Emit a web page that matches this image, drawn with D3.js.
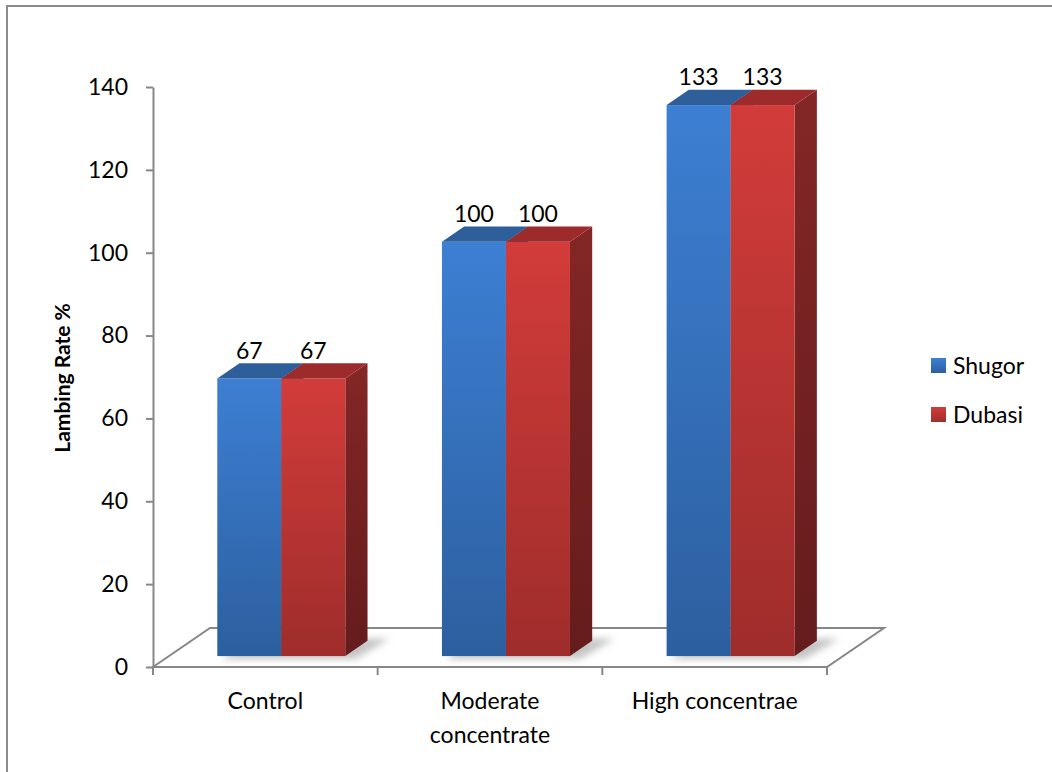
<!DOCTYPE html>
<html>
<head>
<meta charset="utf-8">
<script src="https://cdn.jsdelivr.net/npm/d3@7"></script>
<style>
  html, body { margin: 0; padding: 0; background: #fff; }
  svg { display: block; font-family: Lato, "Open Sans", sans-serif; }
</style>
</head>
<body>
<svg id="chart" width="1052" height="772"></svg>
<script>
// Lambing rate by feeding regime and breed
const categories = [["Control"], ["Moderate", "concentrate"], ["High concentrae"]];
const seriesNames = ["Shugor", "Dubasi"];
const shugor = [67, 100, 133];
const dubasi = [67, 100, 133];
const yTicks = [0, 20, 40, 60, 80, 100, 120, 140];

const seriesValues = [shugor, dubasi];
const catKeys = categories.map(c => c.join(" "));

const svg = d3.select("#chart");
const defs = svg.append("defs");

// chart frame
svg.append("rect")
  .attr("x", 7).attr("y", 6).attr("width", 1100).attr("height", 820)
  .attr("fill", "none").attr("stroke", "#8a8a8a").attr("stroke-width", 2);

// front plane scales
const y = d3.scaleLinear().domain([0, 140]).range([667, 87]);
const x0 = d3.scaleBand().domain(catKeys).range([153, 827]).paddingInner(0).paddingOuter(0);
const x1 = d3.scaleBand().domain(seriesNames).range([0, x0.bandwidth()]).paddingInner(0).paddingOuter(0.755);

// depth of the floor and placement of the bars within it
const depth = { dx: 57, dy: -39 };
const barFront = 0.28, barDepth = 0.39;
const fdx = depth.dx * barFront, fdy = depth.dy * barFront;
const bdx = depth.dx * barDepth, bdy = depth.dy * barDepth;

const palette = {
  Shugor: { front: ["#3d7fd3", "#2c5f9f"], side: ["#2a5a95", "#214a7c"], top: "#2e5f9b", legend: ["#3d7fd3", "#2c5f9f"] },
  Dubasi: { front: ["#d23c3a", "#9e2d2b"], side: ["#842626", "#651c1c"], top: "#9e2b2b", legend: ["#d23c3a", "#a02e2c"] }
};

function vGrad(id, c) {
  const g = defs.append("linearGradient").attr("id", id).attr("x1", 0).attr("y1", 0).attr("x2", 0).attr("y2", 1);
  g.append("stop").attr("offset", "0%").attr("stop-color", c[0]);
  g.append("stop").attr("offset", "100%").attr("stop-color", c[1]);
}
seriesNames.forEach(s => {
  vGrad("front-" + s, palette[s].front);
  vGrad("side-" + s, palette[s].side);
  vGrad("legend-" + s, palette[s].legend);
});

const blur = defs.append("filter").attr("id", "soft").attr("x", "-50%").attr("y", "-50%").attr("width", "200%").attr("height", "200%");
blur.append("feGaussianBlur").attr("stdDeviation", 3.5);

// floor
const x0L = x0.range()[0], x0R = x0.range()[1];
const floor = svg.append("g").attr("fill", "none").attr("stroke", "#878787").attr("stroke-width", 2);
floor.append("path")
  .attr("d", `M${x0L},${y(0)} L${x0L + depth.dx},${y(0) + depth.dy} L${x0R + depth.dx},${y(0) + depth.dy} L${x0R},${y(0)} Z`);

// shadows of the bars on the floor
const shadowG = svg.append("g").attr("filter", "url(#soft)");
catKeys.forEach((c, i) => {
  const xa = x0(c) + x1(seriesNames[0]) + fdx;
  const xb = x0(c) + x1(seriesNames[seriesNames.length - 1]) + x1.bandwidth() + fdx;
  const yb = y(0) + fdy;
  shadowG.append("path")
    .attr("d", `M${xa + 4},${yb + 3} L${xb + 10},${yb + 3} L${xb + bdx + 22},${yb + bdy - 2} L${xa + bdx + 10},${yb + bdy - 2} Z`)
    .attr("fill", "#b5b5b5").attr("opacity", 0.8);
});

// bars
const barsG = svg.append("g");
catKeys.forEach((c, i) => {
  seriesNames.forEach((s, j) => {
    const v = seriesValues[j][i];
    const xl = x0(c) + x1(s) + fdx;
    const xr = xl + x1.bandwidth();
    const yt = y(v) + fdy;
    const yb = y(0) + fdy;
    const g = barsG.append("g");
    g.append("path")
      .attr("d", `M${xr},${yt} L${xr + bdx},${yt + bdy} L${xr + bdx},${yb + bdy} L${xr},${yb} Z`)
      .attr("fill", `url(#side-${s})`);
    g.append("rect")
      .attr("x", xl).attr("y", yt).attr("width", xr - xl).attr("height", yb - yt)
      .attr("fill", `url(#front-${s})`);
    g.append("path")
      .attr("d", `M${xl},${yt} L${xl + bdx},${yt + bdy} L${xr + bdx},${yt + bdy} L${xr},${yt} Z`)
      .attr("fill", palette[s].top);
    // value label
    svg.append("text")
      .attr("x", (xl + xr) / 2).attr("y", yt - 20)
      .attr("text-anchor", "middle")
      .attr("font-size", 23).attr("fill", "#000")
      .text(v);
  });
});

// y axis
const yAxis = svg.append("g")
  .attr("transform", `translate(${x0L},0)`)
  .call(d3.axisLeft(y).tickValues(yTicks).tickSize(7).tickPadding(18).tickSizeOuter(0));
yAxis.select(".domain").attr("stroke", "#878787").attr("stroke-width", 2);
yAxis.selectAll(".tick line").attr("stroke", "#878787").attr("stroke-width", 2);
yAxis.selectAll(".tick text").attr("font-size", 23).attr("fill", "#000").attr("font-family", "Lato, 'Open Sans', sans-serif");

// x axis: ticks at the category boundaries
const bounds = catKeys.map(c => x0(c)).concat([x0R]);
svg.append("g").selectAll("line").data(bounds).join("line")
  .attr("x1", d => d).attr("x2", d => d)
  .attr("y1", y(0)).attr("y2", y(0) + 8)
  .attr("stroke", "#878787").attr("stroke-width", 2);

svg.append("g").selectAll("text").data(categories).join("text")
  .attr("x", (d, i) => x0(catKeys[i]) + x0.bandwidth() / 2)
  .attr("y", 709)
  .attr("text-anchor", "middle")
  .attr("font-size", 23).attr("fill", "#000")
  .each(function (d) {
    const t = d3.select(this);
    d.forEach((line, k) => {
      t.append("tspan").attr("x", t.attr("x")).attr("dy", k === 0 ? 0 : 34).text(line);
    });
  });

// y axis title
svg.append("text")
  .attr("transform", "translate(70,378) rotate(-90)")
  .attr("text-anchor", "middle")
  .attr("font-size", 21).attr("font-weight", "bold").attr("fill", "#000")
  .text("Lambing Rate %");

// legend
const legend = svg.append("g").attr("transform", "translate(931,358)");
seriesNames.forEach((s, i) => {
  const g = legend.append("g").attr("transform", `translate(0,${i * 49})`);
  g.append("rect").attr("width", 15).attr("height", 15).attr("fill", `url(#legend-${s})`);
  g.append("text").attr("x", 22).attr("y", 8).attr("dy", "0.35em")
    .attr("font-size", 23).attr("fill", "#000").text(s);
});
</script>
</body>
</html>
